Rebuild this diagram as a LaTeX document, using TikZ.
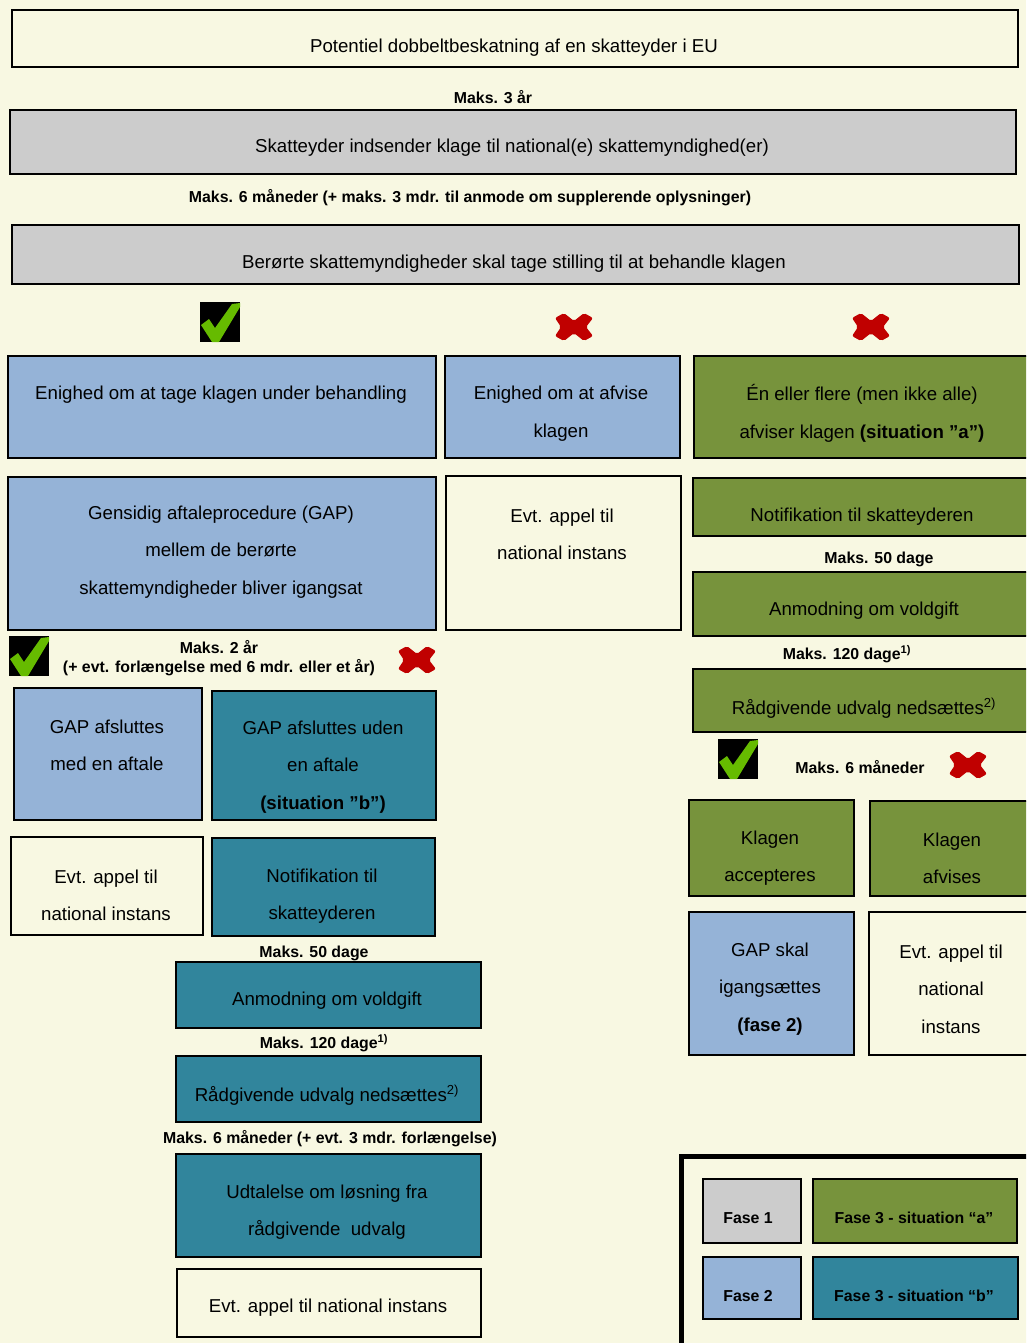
\documentclass[tikz,border=0pt]{standalone}
\usepackage{fontspec}
\setmainfont{Liberation Sans}
\definecolor{bg}{HTML}{F8F8E2}
\definecolor{gr}{HTML}{CCCCCC}
\definecolor{bl}{HTML}{95B3D7}
\definecolor{gn}{HTML}{77933C}
\definecolor{tl}{HTML}{31859C}
\definecolor{xr}{HTML}{C00000}
\definecolor{ck}{HTML}{66BB00}
\newcommand\bx[9]{%
  \node[#2, anchor=north west, minimum width={(#5-#3)*0.75pt}, minimum height={(#6-#4)*0.75pt}] (#1) at (#3,#4) {};
  \node[txt] (#1t) at (#7,#8+2) {#9};}
\tikzset{
  box/.style={draw=black, line width=1.8pt, inner sep=0pt, rectangle},
  cream/.style={box, fill=bg},
  grey/.style={box, fill=gr},
  blue/.style={box, fill=bl},
  green/.style={box, fill=gn},
  teal/.style={box, fill=tl},
  txt/.style={font=\fontsize{14}{28}\selectfont, align=center, inner sep=0pt},
  lab/.style={font=\bfseries\fontsize{11.9}{14.25}\selectfont, align=center, inner sep=0pt},
  legtxt/.style={font=\bfseries\fontsize{11.9}{14}\selectfont, inner sep=0pt},
  crossmark/.pic={
    \fill[xr, rounded corners=1.5pt] (-19,-9) -- (-10,-14) -- (0,-6) -- (10,-14) -- (19,-9) -- (12,0) -- (19,9) -- (10,14) -- (0,6) -- (-10,14) -- (-19,9) -- (-13,0) -- cycle;
  },
  checkmark/.pic={
    \fill[black] (0,0) rectangle (40,40);
    \fill[ck] (1,23) -- (9,17) -- (15,26) -- (32,2) -- (40,1) -- (40,5) -- (19,40) -- (12,40) -- cycle;
  }
}
\begin{document}
\begin{tikzpicture}[x=0.75pt, y=-0.75pt]
\fill[bg] (0,0) rectangle (1026,1343);
\useasboundingbox (0,0) rectangle (1026,1343);
\clip (0,0) rectangle (1026,1343);

\bx{b1}{cream}{11}{9}{1017}{66}{514}{46}{Potentiel dobbeltbeskatning af en skatteyder i EU}
\node[lab] (l1) at (493,97) {Maks. 3 år};
\bx{b2}{grey}{9}{109}{1015}{173}{512}{146}{Skatteyder indsender klage til national(e) skattemyndighed(er)}
\node[lab] (l2) at (470,198) {Maks. 6 måneder (+ maks. 3 mdr. til anmode om supplerende oplysninger)};
\bx{b3}{grey}{11}{224}{1018}{283}{514}{262}{Berørte skattemyndigheder skal tage stilling til at behandle klagen}

\pic (c1) at (200,302) {checkmark};
\pic (x1) at (574,327) {crossmark};
\pic (x2) at (871,327) {crossmark};

\bx{b4}{blue}{7}{355}{435}{457}{221}{393}{Enighed om at tage klagen under behandling}
\bx{b5}{blue}{444}{355}{679}{457}{561}{411.5}{Enighed om at afvise\\klagen}
\bx{b6}{green}{693}{355}{1035}{457}{862}{411.5}{Én eller flere (men ikke alle)\\afviser klagen \textbf{(situation ”a”)}}

\bx{b7}{blue}{7}{476}{435}{629}{221}{550}{Gensidig aftaleprocedure (GAP)\\mellem de berørte\\skattemyndigheder bliver igangsat}
\bx{b8}{cream}{445}{475}{680}{629}{562}{532}{Evt. appel til\\national instans}
\bx{b9}{green}{692}{477}{1035}{535}{862}{515}{Notifikation til skatteyderen}
\node[lab] (l3) at (879,559) {Maks. 50 dage};
\bx{b10}{green}{692}{571}{1035}{635}{864}{609}{Anmodning om voldgift}
\node[lab] (l4) at (847,654) {Maks. 120 dage\textsuperscript{1)}};
\bx{b11}{green}{692}{668}{1035}{731}{864}{706}{Rådgivende udvalg nedsættes\textsuperscript{2)}}

\pic (c2) at (718,739) {checkmark};
\node[lab] (l5) at (860,767) {Maks. 6 måneder};
\pic (x3) at (968,765) {crossmark};

\bx{b12}{green}{688}{799}{853}{895}{770}{856}{Klagen\\accepteres}
\bx{b13}{green}{869}{800}{1035}{895}{952}{856}{Klagen\\afvises}
\bx{b14}{blue}{688}{911}{853}{1054}{770}{987}{GAP skal\\igangsættes\\\textbf{(fase 2)}}
\bx{b15}{cream}{868}{911}{1035}{1054}{951}{987}{Evt. appel til\\national\\instans}

\pic (c3) at (9,636) {checkmark};
\node[lab] (l6) at (219,658.5) {Maks. 2 år\\(+ evt. forlængelse med 6 mdr. eller et år)};
\pic (x4) at (417,660) {crossmark};

\bx{b16}{blue}{13}{687}{201}{819}{107}{743.5}{GAP afsluttes\\med en aftale}
\bx{b17}{teal}{211}{690}{435}{819}{323}{765}{GAP afsluttes uden\\en aftale\\\textbf{(situation ”b”)}}
\bx{b18}{cream}{10}{836}{202}{934}{106}{893}{Evt. appel til\\national instans}
\bx{b19}{teal}{211}{837}{434}{935}{322}{894}{Notifikation til\\skatteyderen}
\node[lab] (l7) at (314,953) {Maks. 50 dage};
\bx{b20}{teal}{175}{961}{480}{1027}{327}{999}{Anmodning om voldgift}
\node[lab] (l8) at (324,1043) {Maks. 120 dage\textsuperscript{1)}};
\bx{b21}{teal}{175}{1055}{480}{1121}{327}{1093}{Rådgivende udvalg nedsættes\textsuperscript{2)}}
\node[lab] (l9) at (330,1139) {Maks. 6 måneder (+ evt. 3 mdr. forlængelse)};
\bx{b22}{teal}{175}{1153}{480}{1256}{327}{1210}{Udtalelse om løsning fra\\rådgivende\ \ udvalg}
\bx{b23}{cream}{176}{1268}{480}{1336}{328}{1306}{Evt. appel til national instans}

% legend
\node[draw=black, line width=3.75pt, fill=bg, anchor=north west, minimum width={(1045-679)*0.75pt}, minimum height={(1370-1154)*0.75pt}, inner sep=0pt] (leg) at (679,1154) {};
\node[grey, line width=1.5pt, anchor=north west, minimum width={98*0.75pt}, minimum height={64*0.75pt}] (f1) at (702,1178) {};
\node[legtxt] (f1t) at (748,1218) {Fase 1};
\node[green, line width=1.5pt, anchor=north west, minimum width={204*0.75pt}, minimum height={64*0.75pt}] (f3a) at (812,1178) {};
\node[legtxt] (f3at) at (914,1218) {Fase 3 - situation “a”};
\node[blue, line width=1.5pt, anchor=north west, minimum width={98*0.75pt}, minimum height={62*0.75pt}] (f2) at (702,1256) {};
\node[legtxt] (f2t) at (748,1296) {Fase 2};
\node[teal, line width=1.5pt, anchor=north west, minimum width={205*0.75pt}, minimum height={62*0.75pt}] (f3b) at (812,1256) {};
\node[legtxt] (f3bt) at (914,1296) {Fase 3 - situation “b”};
\end{tikzpicture}
\end{document}
